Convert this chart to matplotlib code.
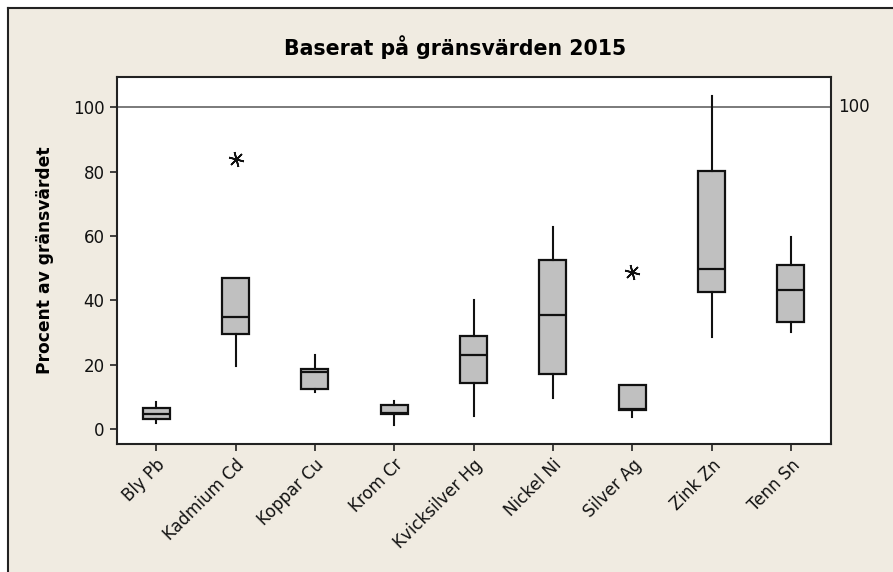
import matplotlib
matplotlib.use("Agg")
import matplotlib.pyplot as plt
from matplotlib.patches import Rectangle
from matplotlib.lines import Line2D

# values (percent of limit value)
metals = ["Bly Pb", "Kadmium Cd", "Koppar Cu", "Krom Cr", "Kvicksilver Hg",
          "Nickel Ni", "Silver Ag", "Zink Zn", "Tenn Sn"]
whis_lo = [1.8, 19.6, 11.5, 1.1, 4.0, 9.5, 3.6, 28.7, 30.2]
q1 = [3.1, 29.4, 12.4, 4.6, 14.2, 17.0, 5.9, 42.7, 33.2]
med = [4.7, 34.9, 17.7, 4.9, 23.0, 35.4, 6.2, 49.7, 43.2]
q3 = [6.6, 46.9, 18.5, 7.4, 29.0, 52.4, 13.7, 80.2, 50.8]
whis_hi = [8.3, 46.9, 23.0, 8.8, 40.1, 62.9, 13.7, 103.6, 59.6]
outliers = [[], [83.9], [], [], [], [], [48.7], [], []]
ref_value = 100

BG = "#F0EBE1"
fig = plt.figure(figsize=(8.93, 5.72), dpi=100, facecolor="white")
# beige panel with thin dark border on top/left, white margin outside
fig.patches.append(Rectangle((8 / 893, 0), 1, 1 - 8 / 572, transform=fig.transFigure,
                             facecolor=BG, edgecolor="none", zorder=-10))
fig.lines.append(Line2D([7.5 / 893, 7.5 / 893], [0, 1 - 7.5 / 572], transform=fig.transFigure,
                        color="#222222", lw=1.5))
fig.lines.append(Line2D([7.5 / 893, 1], [1 - 7.5 / 572, 1 - 7.5 / 572], transform=fig.transFigure,
                        color="#222222", lw=1.5))

ax = fig.add_axes([116.5 / 893, 1 - 444 / 572, (830.5 - 116.5) / 893, (444 - 77) / 572])
ax.set_facecolor("white")

stats = [dict(label=m, whislo=a, q1=b, med=c, q3=d, whishi=e, fliers=f)
         for m, a, b, c, d, e, f in zip(metals, whis_lo, q1, med, q3, whis_hi, outliers)]
ax.bxp(stats, positions=range(1, len(metals) + 1), widths=0.34, patch_artist=True,
       showcaps=False,
       boxprops=dict(facecolor="#C0C0C0", edgecolor="#111111", linewidth=1.6),
       medianprops=dict(color="#111111", linewidth=1.6),
       whiskerprops=dict(color="#111111", linewidth=1.5),
       flierprops=dict(marker=(6, 2, 15), markersize=11, markeredgecolor="#111111",
                       markeredgewidth=1.2, linestyle="none"))

ax.axhline(ref_value, color="#707070", lw=1.3, zorder=1)
ax.text(1.01, ref_value, "100", transform=ax.get_yaxis_transform(), ha="left",
        va="center", fontsize=12, color="#111111")

ax.set_xlim(0.5, 9.5)
ax.set_ylim(-4.7, 109.4)
ax.set_yticks([0, 20, 40, 60, 80, 100])
ax.set_xticks(range(1, len(metals) + 1))
ax.set_xticklabels(metals, rotation=45, ha="right", rotation_mode="anchor", fontsize=12)
ax.tick_params(axis="both", direction="out", length=5, width=1.2, color="#222222",
               labelsize=12, labelcolor="#111111")
for s in ax.spines.values():
    s.set_color("#222222")
    s.set_linewidth(1.5)

ax.set_ylabel("Procent av gränsvärdet", fontsize=12.3, fontweight="bold", labelpad=14)
fig.text(455 / 893, 1 - 47 / 572, "Baserat på gränsvärden 2015", ha="center", va="center",
         fontsize=14.8, fontweight="bold")

fig.savefig("out.png", dpi=100, facecolor=fig.get_facecolor())
